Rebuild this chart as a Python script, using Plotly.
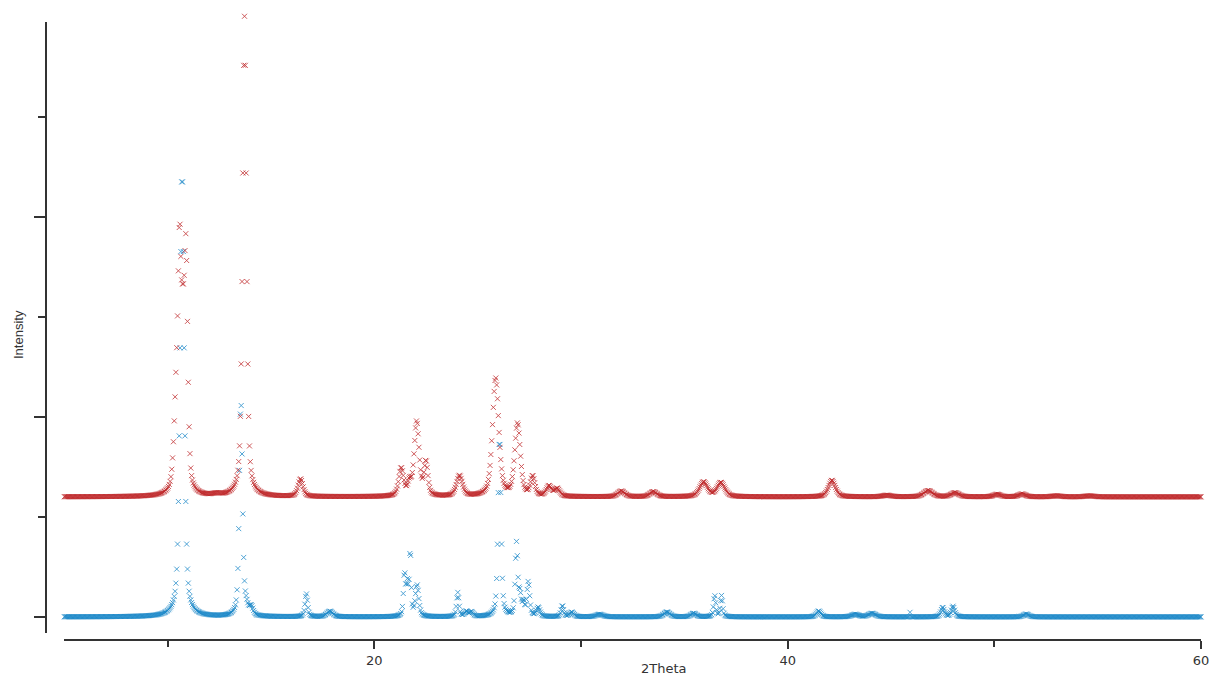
import numpy as np
import plotly.graph_objects as go

# Scan axis (degrees 2-theta)
scan_start, scan_end, scan_step = 5.0, 60.0, 0.04

# Upper trace (red): flat background plus reflections (position, height above background, FWHM)
red_background = 1205
red_pos = [10.42, 10.58, 10.73, 10.89, 12.36, 13.72, 16.43, 21.30, 21.70, 22.05, 22.50,
           24.12, 25.87, 26.93, 27.66, 28.45, 28.85, 31.95, 33.50, 35.93, 36.77,
           42.14, 44.80, 46.80, 48.10, 50.13, 51.34, 53.00, 54.60]
red_height = [900, 2100, 1100, 2300, 15, 4800, 175, 275, 120, 740, 330,
              205, 1180, 720, 190, 100, 75, 56, 50, 146, 140,
              165, 15, 62, 40, 25, 28, 10, 10]
red_fwhm = [0.26, 0.18, 0.18, 0.20, 0.40, 0.22, 0.28, 0.28, 0.20, 0.28, 0.22,
            0.35, 0.36, 0.32, 0.25, 0.30, 0.30, 0.40, 0.40, 0.45, 0.45,
            0.40, 0.50, 0.50, 0.45, 0.40, 0.40, 0.50, 0.50]

# Lower trace (blue)
blue_background = 5
blue_pos = [10.70, 13.545, 13.80, 14.05, 16.71, 17.85, 21.46, 21.60, 21.74, 22.07,
            24.04, 24.45, 24.70, 26.06, 26.88, 27.05, 27.22, 27.45, 27.93, 29.10,
            29.55, 30.90, 34.16, 35.45, 36.47, 36.80, 41.50, 43.27, 44.08, 45.92,
            47.50, 48.00, 51.54]
blue_height = [4450, 2150, 80, 80, 230, 55, 420, 300, 650, 310,
               240, 50, 45, 1800, 720, 200, 120, 340, 90, 110,
               45, 25, 48, 35, 210, 210, 58, 25, 35, 45,
               95, 105, 28]
blue_fwhm = [0.24, 0.18, 0.20, 0.20, 0.15, 0.35, 0.12, 0.12, 0.10, 0.20,
             0.14, 0.20, 0.20, 0.17, 0.14, 0.15, 0.12, 0.16, 0.20, 0.15,
             0.25, 0.40, 0.35, 0.30, 0.13, 0.13, 0.25, 0.40, 0.40, 0.03,
             0.20, 0.20, 0.30]

# Intensity axis: major/minor tick values and the span covered by the axis line
y_major = [0, 2000, 4000]
y_minor = [1000, 3000, 5000]
y_axis_range = [-156, 5952]

red_color = "#C0282A"
blue_color = "#1B88C8"
axis_color = "#333333"


def pseudo_voigt(x, centre, height, fwhm, eta=0.5):
    d = (x - centre) / fwhm
    lor = 1.0 / (1.0 + 4.0 * d * d)
    gau = np.exp(-4.0 * np.log(2.0) * d * d)
    return height * (eta * lor + (1.0 - eta) * gau)


def pattern(x, background, pos, height, fwhm):
    y = np.full_like(x, float(background))
    for c, h, w in zip(pos, height, fwhm):
        y += pseudo_voigt(x, c, h, w)
    return y


two_theta = np.round(np.arange(scan_start, scan_end + scan_step / 2, scan_step), 2)
red_y = pattern(two_theta, red_background, red_pos, red_height, red_fwhm)
blue_y = pattern(two_theta, blue_background, blue_pos, blue_height, blue_fwhm)

# Page geometry (pixels)
W, H = 1211, 675
ml, mr, mt, mb = 46, 10, 12, 35
pw, ph = W - ml - mr, H - mt - mb
x_line_start = 64.3          # left end of the 2-theta axis line
y_line_top, y_line_bottom = 22, 633

# The visible intensity axis stops a little below the top of the plotting area;
# the data axis has the same scale but reaches the top so tall peaks stay visible.
px_per_unit = (y_line_bottom - y_line_top) / (y_axis_range[1] - y_axis_range[0])
data_top = y_axis_range[0] + (y_line_bottom - mt) / px_per_unit
dom_bottom = (H - mb - y_line_bottom) / ph
dom_top = (H - mb - y_line_top) / ph

fig = go.Figure()
fig.add_trace(go.Scatter(x=[], y=[], yaxis="y", showlegend=False, hoverinfo="skip"))
for yy, col in ((blue_y, blue_color), (red_y, red_color)):
    fig.add_trace(go.Scatter(
        x=two_theta, y=yy, yaxis="y2", mode="markers", cliponaxis=False,
        showlegend=False,
        marker=dict(symbol="x-thin", size=5, color=col,
                    line=dict(width=0.9, color=col), opacity=0.85),
    ))

fig.update_layout(
    width=W, height=H, autosize=False,
    margin=dict(l=ml, r=mr, t=mt, b=mb, pad=0, autoexpand=False),
    paper_bgcolor="white", plot_bgcolor="white",
    font=dict(family="DejaVu Sans", size=13, color=axis_color),
    xaxis=dict(
        domain=[(x_line_start - ml) / pw, 1.0], anchor="free", position=0.0,
        automargin=False,
        range=[5.0, 60.0], showgrid=False, zeroline=False,
        showline=True, linecolor=axis_color, linewidth=2,
        tickmode="array", tickvals=[20, 40, 60], ticktext=["20", "40", "60"],
        ticks="outside", ticklen=8, tickwidth=2, tickcolor=axis_color,
        tickfont=dict(family="DejaVu Sans", size=13, color=axis_color),
        minor=dict(tickmode="array", tickvals=[10, 30, 50], ticks="outside",
                   ticklen=6, tickwidth=2, tickcolor=axis_color),
    ),
    yaxis=dict(
        domain=[dom_bottom, dom_top], anchor="free", position=0.0,
        automargin=False,
        range=y_axis_range, showgrid=False, zeroline=False,
        showline=True, linecolor=axis_color, linewidth=2,
        tickmode="array", tickvals=y_major, showticklabels=False,
        ticks="outside", ticklen=11, tickwidth=2, tickcolor=axis_color,
        minor=dict(tickmode="array", tickvals=y_minor, ticks="outside",
                   ticklen=7, tickwidth=2, tickcolor=axis_color),
    ),
    yaxis2=dict(
        domain=[dom_bottom, 1.0], anchor="free", position=0.0,
        automargin=False,
        range=[y_axis_range[0], data_top], visible=False,
        showgrid=False, zeroline=False,
    ),
    annotations=[
        dict(text="2Theta", xref="paper", yref="paper",
             x=(664 - ml) / pw, y=(H - mb - 668) / ph,
             xanchor="center", yanchor="middle", showarrow=False,
             font=dict(family="DejaVu Sans", size=13, color=axis_color)),
        dict(text="Intensity", xref="paper", yref="paper",
             x=(18 - ml) / pw, y=(H - mb - 335) / ph, textangle=-90,
             xanchor="center", yanchor="middle", showarrow=False,
             font=dict(family="Liberation Sans", size=13, color=axis_color)),
    ],
)

fig.write_html("out.html")
